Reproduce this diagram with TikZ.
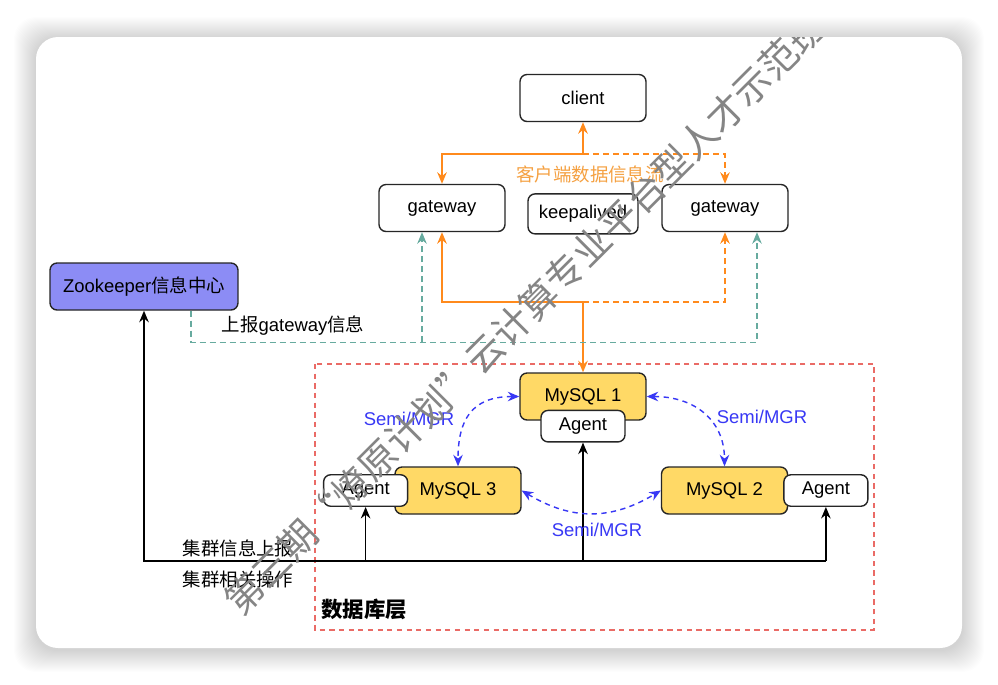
\documentclass[tikz,border=0pt]{standalone}
\usepackage{fontspec}
\setmainfont{Liberation Sans}
\newfontfamily\cjk{Noto Sans CJK SC}
\usetikzlibrary{arrows.meta,positioning,calc}

\definecolor{flowor}{HTML}{FF8A1C}
\definecolor{flowlbl}{HTML}{F5A142}
\definecolor{reportgr}{HTML}{67AB9F}
\definecolor{syncbl}{HTML}{3838F5}
\definecolor{dbred}{HTML}{EA6B66}
\definecolor{dbyellow}{HTML}{FFD966}
\definecolor{zkblue}{HTML}{8C8CF5}
\definecolor{markgray}{HTML}{858585}

\begin{document}
\begin{tikzpicture}[x=0.02cm,y=-0.02cm,
                    font=\fontsize{10.5}{12.6}\selectfont,
                    >={Stealth[length=2.3mm,width=1.9mm]},
                    box node/.style={draw=black!85,fill=white,rounded corners=4pt,line width=0.8pt,
                                     minimum width=2.52cm,minimum height=0.94cm,inner sep=2pt},
                    db node/.style={box node,fill=dbyellow},
                    agent node/.style={box node,minimum width=1.68cm,minimum height=0.63cm},
                    zk node/.style={box node,fill=zkblue,minimum width=3.76cm},
                    flow line/.style={draw=flowor,line width=1.1pt},
                    flow dash/.style={draw=flowor,line width=0.9pt,dash pattern=on 3.4pt off 2.3pt},
                    report dash/.style={draw=reportgr,line width=0.75pt,dash pattern=on 3.4pt off 2.3pt},
                    ctrl line/.style={draw=black,line width=1pt},
                    sync line/.style={draw=syncbl,line width=0.8pt,dash pattern=on 3pt off 2.5pt},
                    sync label/.style={text=syncbl}]
  % card and shadow
  \fill[white] (0,0) rectangle (998,684);
  \foreach \i in {1,...,22}
    \fill[black,opacity=0.009,rounded corners=0.44cm] (36-\i,37-\i+2) rectangle (962+\i,648+\i+2);
  \fill[white,rounded corners=0.44cm] (36,37) rectangle (962,648);

  % database layer
  \draw[dbred,line width=0.7pt,dash pattern=on 3pt off 2.5pt] (315,364) rectangle (874,630);
  \node[font=\cjk\bfseries\fontsize{12.2}{14}\selectfont] (dblabel) at (364,609) {数据库层};

  % nodes
  \node[box node] (client) at (583,98) {client};
  \node[box node] (gwl) at (442,208) {gateway};
  \node[box node] (gwr) at (725,208) {gateway};
  \node[box node,minimum width=2.2cm,minimum height=0.8cm] (keep) [below=1.42cm of client] {keepalived};
  \node[zk node] (zk) at (144,286.5) {Zookeeper{\cjk 信息中心}};

  \node[db node] (m1) at (583,396.5) {MySQL 1};
  \node[agent node] (a1) [below=-0.22cm of m1] {Agent};
  \node[db node] (m3) at (458,490.5) {MySQL 3};
  \node[agent node] (a3) [left=-0.28cm of m3] {Agent};
  \node[db node] (m2) at (724.5,490.5) {MySQL 2};
  \node[agent node] (a2) [right=-0.1cm of m2] {Agent};

  % client data flow
  \coordinate (cj) at ($(client.south)+(0,32)$);
  \coordinate (oj) at (583,302);
  \draw[flow line,<->] (client.south) -- (cj) -| (gwl.north);
  \draw[flow dash,->] (cj) -| (gwr.north);
  \draw[flow line,<->] (gwl.south) |- (oj) -- (m1.north);
  \draw[flow dash,->] (oj) -| (gwr.south);
  \node[text=flowlbl,font=\cjk\fontsize{10.5}{12.6}\selectfont] (flowlabel) at (590,174) {客户端数据信息流};

  % gateway report
  \coordinate (tj) at ($(zk.south)+(47,0)$);
  \draw[report dash,->] (tj) |- ($(gwr.south)+(32,110)$) -- ($(gwr.south)+(32,0)$);
  \draw[report dash,->] ($(gwl.south)+(-20,110)$) -- ($(gwl.south)+(-20,0)$);
  \node (reportlabel) at (293,326) {{\cjk 上报}gateway{\cjk 信息}};

  % cluster control
  \coordinate (bus) at (0,561);
  \draw[ctrl line,->] (a2.south |- bus) -| (zk.south);
  \draw[ctrl line,->] (a2.south |- bus) -- (a2.south);
  \draw[ctrl line,->] (a3.south |- bus) -- (a3.south);
  \draw[ctrl line,->] (a1.south |- bus) -- (a1.south);
  \node[font=\cjk\fontsize{10.5}{12.6}\selectfont] (uplabel) at (238,548) {集群信息上报};
  \node[font=\cjk\fontsize{10.5}{12.6}\selectfont] (oplabel) at (238,579) {集群相关操作};

  % replication
  \draw[sync line,<->] (m1.west) .. controls +(-48,0) and +(0,-46) .. (m3.north);
  \draw[sync line,<->] (m1.east) .. controls +(48,0) and +(0,-46) .. (m2.north);
  \draw[sync line,<->] (m3.east) .. controls +(50,30) and +(-50,30) .. (m2.west);
  \node[sync label] (s1) at (409,419) {Semi/MGR};
  \node[sync label] (s2) at (762,417) {Semi/MGR};
  \node[sync label] (s3) at (597,530) {Semi/MGR};

  % watermark
  \begin{scope}
    \clip[rounded corners=0.44cm] (36,37) rectangle (962,648);
    \node[text=markgray,rotate=45,font=\cjk\fontsize{21.5}{24}\selectfont] (mark) at (525,313)
      {第三期“燎原计划”云计算专业平台型人才示范班};
  \end{scope}
  \useasboundingbox (0,0) rectangle (998,684);
\end{tikzpicture}
\end{document}
